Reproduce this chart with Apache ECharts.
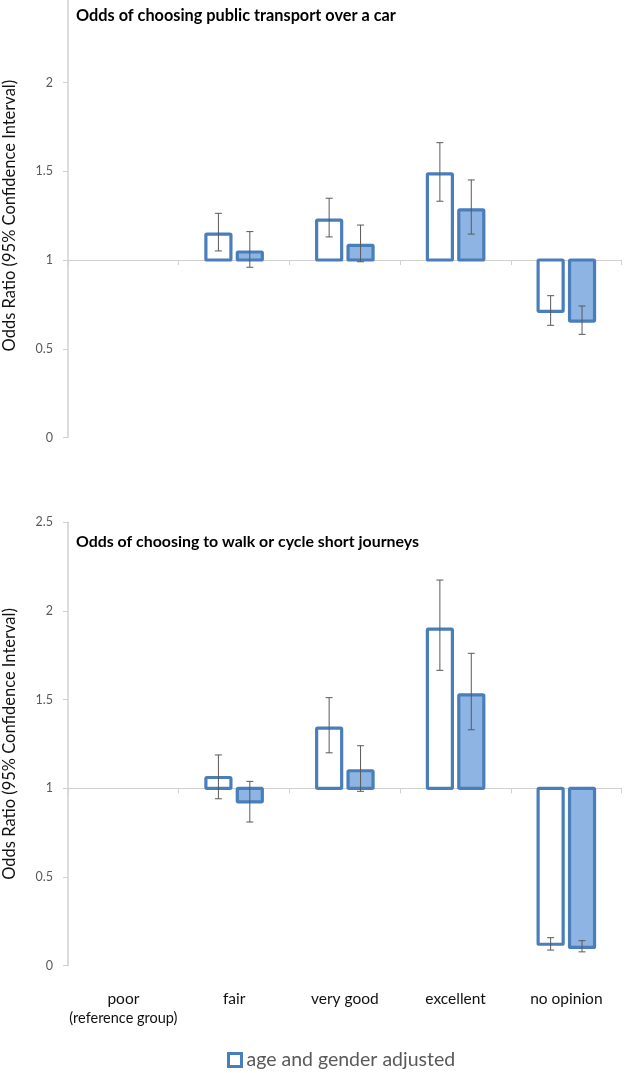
<!DOCTYPE html>
<html>
<head>
<meta charset="utf-8">
<script src="https://cdn.jsdelivr.net/npm/echarts@6/dist/echarts.min.js"></script>
<style>html,body{margin:0;padding:0;background:#fff}#c{width:625px;height:1073px}</style>
</head>
<body>
<div id="c"></div>
<script>
// ---- data ----
const categories = ['poor', 'fair', 'very good', 'excellent', 'no opinion'];
const yTicks = [0, 0.5, 1, 1.5, 2, 2.5];
const titleTop = 'Odds of choosing public transport over a car';
const titleBottom = 'Odds of choosing to walk or cycle short journeys';
const yName = 'Odds Ratio (95% Confidence Interval)';
const seriesAName = 'age and gender adjusted';
const seriesBName = 'fully adjusted';

// public transport over a car
const ptA = [null, 1.146, 1.225, 1.485, 0.711];
const ptALow = [null, 1.051, 1.130, 1.331, 0.632];
const ptAHigh = [null, 1.263, 1.348, 1.661, 0.799];
const ptB = [null, 1.045, 1.082, 1.282, 0.656];
const ptBLow = [null, 0.959, 0.990, 1.146, 0.581];
const ptBHigh = [null, 1.160, 1.197, 1.451, 0.741];

// walk or cycle short journeys
const wcA = [null, 1.061, 1.339, 1.897, 0.121];
const wcALow = [null, 0.941, 1.200, 1.665, 0.088];
const wcAHigh = [null, 1.188, 1.511, 2.174, 0.158];
const wcB = [null, 0.924, 1.099, 1.527, 0.103];
const wcBLow = [null, 0.810, 0.983, 1.330, 0.078];
const wcBHigh = [null, 1.039, 1.240, 1.761, 0.141];

// ---- chart ----
const BORDER = '#4a7ebb';
const FILL_B = '#8db4e2';
const FONT = 'Lato, "Open Sans", sans-serif';

function rows(v, lo, hi) {
  const out = [];
  v.forEach((val, i) => { if (val != null) out.push([i, val, lo[i], hi[i]]); });
  return out;
}

function makeRender(side, fill) {
  return function (params, api) {
    const ci = api.value(0), v = api.value(1), lo = api.value(2), hi = api.value(3);
    const base = api.coord([ci, 1]);
    const top = api.coord([ci, v]);
    const cw = api.size([1, 0])[0];
    const cx = base[0] + side * cw * 0.1418;
    const bw = cw * 0.226;
    const y0 = Math.min(base[1], top[1]);
    const h = Math.abs(base[1] - top[1]);
    const pLo = api.coord([ci, lo]);
    const pHi = api.coord([ci, hi]);
    const cap = 3.5;
    const es = { stroke: '#5a5a5a', lineWidth: 1 };
    return {
      type: 'group',
      children: [
        { type: 'rect', shape: { x: cx - bw / 2, y: y0, width: bw, height: h, r: 1 },
          style: { fill: fill, stroke: BORDER, lineWidth: 3.2, lineJoin: 'round' } },
        { type: 'line', shape: { x1: cx, y1: pLo[1], x2: cx, y2: pHi[1] }, style: es },
        { type: 'line', shape: { x1: cx - cap, y1: pLo[1], x2: cx + cap, y2: pLo[1] }, style: es },
        { type: 'line', shape: { x1: cx - cap, y1: pHi[1], x2: cx + cap, y2: pHi[1] }, style: es }
      ]
    };
  };
}

function yAxisCfg(gridIndex, hideMax) {
  return {
    type: 'value', gridIndex: gridIndex, min: 0, max: 2.5, interval: 0.5,
    name: yName, nameLocation: 'middle', nameGap: 50,
    nameTextStyle: { fontFamily: FONT, fontSize: 16.5, color: '#111' },
    axisLine: { show: true, lineStyle: { color: '#d0d0d0', width: 1.5 } },
    axisTick: { show: true, length: 5, lineStyle: { color: '#d0d0d0' } },
    axisLabel: { color: '#595959', fontFamily: FONT, fontSize: 12.5, margin: 15,
                 showMaxLabel: !hideMax },
    splitLine: { show: false }
  };
}

function lineAxisCfg(gridIndex, off) {
  return {
    type: 'category', gridIndex: gridIndex, data: categories, position: 'bottom',
    offset: off,
    axisLine: { show: true, onZero: false, lineStyle: { color: '#d0d0d0', width: 1 } },
    axisTick: { show: true, length: 5, lineStyle: { color: '#d0d0d0' } },
    axisLabel: { show: false }, splitLine: { show: false }
  };
}

const chart = echarts.init(document.getElementById('c'), null, { renderer: 'canvas' });
chart.setOption({
  backgroundColor: '#fff',
  animation: false,
  title: [
    { text: titleTop, left: 76, top: 8, padding: 0,
      textStyle: { fontFamily: FONT, fontSize: 16.3, fontWeight: 'bold', color: '#000' } },
    { text: titleBottom, left: 76, top: 534, padding: 0,
      textStyle: { fontFamily: FONT, fontSize: 15.9, fontWeight: 'bold', color: '#000' } }
  ],
  legend: {
    left: 227, top: 1050, padding: 0, itemWidth: 13, itemHeight: 13, itemGap: 10,
    data: [{ name: seriesAName, icon: 'rect',
             itemStyle: { color: '#fff', borderColor: BORDER, borderWidth: 3 } }],
    textStyle: { fontFamily: FONT, fontSize: 19.5, color: '#595959' },
    selectedMode: false
  },
  grid: [
    { left: 68, right: 3.3, top: -6.25, height: 443.75, containLabel: false, outerBoundsMode: 'none' },
    { left: 68, right: 3.3, top: 522.2, height: 443.5, containLabel: false, outerBoundsMode: 'none' }
  ],
  xAxis: [
    lineAxisCfg(0, -177.5),
    lineAxisCfg(1, -177.4),
    {
      type: 'category', gridIndex: 1, data: categories, position: 'bottom',
      axisLine: { show: false, onZero: false }, axisTick: { show: false },
      axisLabel: {
        interval: 0, margin: 23, fontFamily: FONT, fontSize: 15, color: '#111',
        formatter: function (v, i) {
          return i === 0 ? '{a|' + v + '}\n{s|(reference group)}' : '{a|' + v + '}';
        },
        rich: {
          a: { fontFamily: FONT, fontSize: 15.5, color: '#111', lineHeight: 20 },
          s: { fontFamily: FONT, fontSize: 14.5, color: '#111', lineHeight: 20 }
        }
      }
    }
  ],
  yAxis: [yAxisCfg(0, true), yAxisCfg(1, false)],
  series: [
    { name: seriesAName, type: 'custom', xAxisIndex: 0, yAxisIndex: 0,
      itemStyle: { color: '#fff', borderColor: BORDER },
      renderItem: makeRender(-1, '#fff'), encode: { x: 0, y: [1, 2, 3] },
      data: rows(ptA, ptALow, ptAHigh) },
    { name: seriesBName, type: 'custom', xAxisIndex: 0, yAxisIndex: 0,
      itemStyle: { color: FILL_B, borderColor: BORDER },
      renderItem: makeRender(1, FILL_B), encode: { x: 0, y: [1, 2, 3] },
      data: rows(ptB, ptBLow, ptBHigh) },
    { name: seriesAName, type: 'custom', xAxisIndex: 1, yAxisIndex: 1,
      itemStyle: { color: '#fff', borderColor: BORDER },
      renderItem: makeRender(-1, '#fff'), encode: { x: 0, y: [1, 2, 3] },
      data: rows(wcA, wcALow, wcAHigh) },
    { name: seriesBName, type: 'custom', xAxisIndex: 1, yAxisIndex: 1,
      itemStyle: { color: FILL_B, borderColor: BORDER },
      renderItem: makeRender(1, FILL_B), encode: { x: 0, y: [1, 2, 3] },
      data: rows(wcB, wcBLow, wcBHigh) }
  ]
});
</script>
</body>
</html>
